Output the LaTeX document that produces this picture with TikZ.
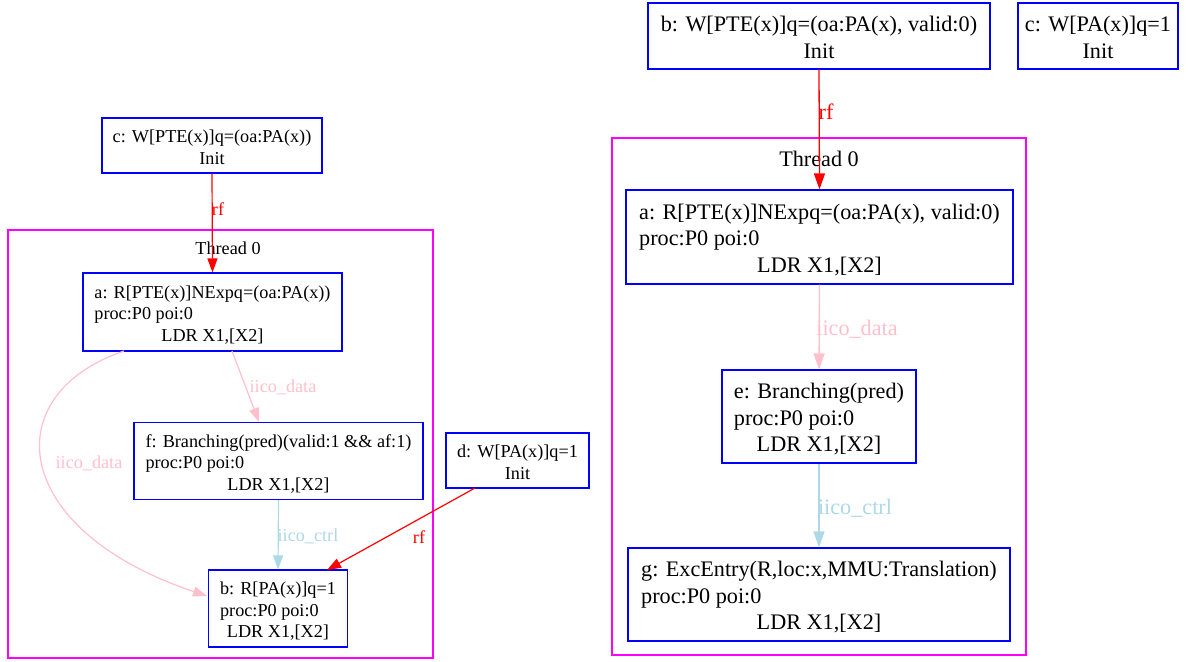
\documentclass[tikz,border=0pt]{standalone}
\usepackage{fontspec}
\setmainfont{Liberation Serif}
\usetikzlibrary{arrows.meta,calc}
\definecolor{gvblue}{RGB}{0,0,255}
\definecolor{gvmag}{RGB}{255,0,255}
\definecolor{gvpink}{RGB}{255,192,203}
\definecolor{gvlblue}{RGB}{173,216,230}
\definecolor{gvred}{RGB}{255,0,0}
\newcommand\lft{\fontsize{18.2}{21.5}\selectfont}
\newcommand\rgt{\fontsize{22.2}{26.5}\selectfont}
\newlength\txtdrop
\setlength\txtdrop{3.5pt}
\newcommand\evt[3]{\raisebox{-\txtdrop}[\height][\depth]{\begin{tabular}{@{}l@{}}#1\\#2\\\multicolumn{1}{@{}c@{}}{#3}\end{tabular}}}
\newcommand\ini[1]{\raisebox{-\txtdrop}[\height][\depth]{\begin{tabular}{@{}c@{}}#1\\Init\end{tabular}}}
\tikzset{
  evbox/.style={draw=gvblue, line width=1.2pt, inner sep=0pt, fill=white},
  lbox/.style={evbox, font=\lft},
  rbox/.style={evbox, font=\rgt},
  cluster/.style={draw=gvmag, line width=1.2pt},
  arr/.style={line width=1.2pt, -{Triangle[length=14pt,width=10pt]}},
  rarr/.style={line width=1.3pt, -{Triangle[length=16pt,width=11pt]}},
  rfedge/.style={draw=gvred},
  dataedge/.style={draw=gvpink},
  ctrledge/.style={draw=gvlblue},
  lab/.style={inner sep=0pt},
}
\begin{document}
\begin{tikzpicture}[x=1pt,y=-1pt]
\useasboundingbox (0,0) rectangle (1190,661);
% ---------- left graph ----------
\draw[cluster] (8,230) rectangle (433,658);
\node[lab, font=\lft] (thrL) at (228,248) {Thread 0};
\node[lbox, minimum width=220, minimum height=55] (cL) at (212,145.5) {\ini{c: W[PTE(x)]q=(oa:PA(x))}};
\node[lbox, minimum width=259, minimum height=78] (aL) at (212.5,312) {\evt{a: R[PTE(x)]NExpq=(oa:PA(x))}{proc:P0 poi:0}{LDR X1,[X2]}};
\node[lbox, minimum width=289, minimum height=77] (f) at (278.5,461) {\evt{f: Branching(pred)(valid:1 \&\& af:1)}{proc:P0 poi:0}{LDR X1,[X2]}};
\node[lbox, minimum width=139, minimum height=77] (bL) at (278,608.5) {\evt{b: R[PA(x)]q=1}{proc:P0 poi:0}{LDR X1,[X2]}};
\node[lbox, minimum width=143, minimum height=55] (d) at (517.5,460.5) {\ini{d: W[PA(x)]q=1}};
\draw[arr, rfedge] (cL.south) -- (aL.north);
\node[lab, font=\lft, text=gvred] (rfL1) at (218,209) {rf};
\coordinate (aLs1) at (232,351);
\coordinate (fn1) at (259,422);
\draw[arr, dataedge] (aLs1) -- (fn1);
\node[lab, font=\lft, text=gvpink] (dl1) at (283,387) {iico\_data};
\coordinate (aLs2) at (124,351);
\coordinate (bLw) at (207,596);
\draw[arr, dataedge] (aLs2) .. controls (-5,395) and (10,530) .. (bLw);
\node[lab, font=\lft, text=gvpink] (dl2) at (89,463) {iico\_data};
\draw[arr, ctrledge] (f.south) -- (bL.north);
\node[lab, font=\lft, text=gvlblue] (cl1) at (308,536) {iico\_ctrl};
\coordinate (ds) at (475,488);
\coordinate (bLne) at (327,570);
\draw[arr, rfedge] (ds) -- (bLne);
\node[lab, font=\lft, text=gvred] (rfL2) at (419,537) {rf};
% ---------- right graph ----------
\draw[cluster] (612,138) rectangle (1026,655);
\node[lab, font=\rgt] (thrR) at (819,159) {Thread 0};
\node[rbox, minimum width=342, minimum height=66] (bR) at (819,36) {\ini{b: W[PTE(x)]q=(oa:PA(x), valid:0)}};
\node[rbox, minimum width=160, minimum height=66] (cR) at (1098,36) {\ini{c: W[PA(x)]q=1}};
\node[rbox, minimum width=387, minimum height=94] (aR) at (819.5,237) {\evt{a: R[PTE(x)]NExpq=(oa:PA(x), valid:0)}{proc:P0 poi:0}{LDR X1,[X2]}};
\node[rbox, minimum width=194, minimum height=93] (e) at (819,416.5) {\evt{e: Branching(pred)}{proc:P0 poi:0}{LDR X1,[X2]}};
\node[rbox, minimum width=382, minimum height=93] (g) at (819,594.5) {\evt{g: ExcEntry(R,loc:x,MMU:Translation)}{proc:P0 poi:0}{LDR X1,[X2]}};
\draw[rarr, rfedge] (bR.south) -- (aR.north);
\node[lab, font=\rgt, text=gvred] (rfR) at (826,112) {rf};
\draw[rarr, dataedge] (aR.south) -- (e.north);
\node[lab, font=\rgt, text=gvpink] (dr) at (857,329) {iico\_data};
\draw[rarr, ctrledge] (e.south) -- (g.north);
\node[lab, font=\rgt, text=gvlblue] (cr) at (855,508) {iico\_ctrl};
\end{tikzpicture}
\end{document}
